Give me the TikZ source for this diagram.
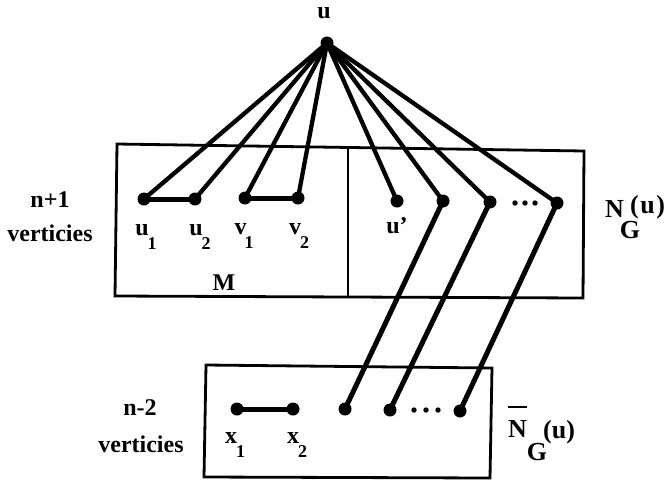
\documentclass[tikz,border=0pt]{standalone}
\usepackage{fontspec}
\setmainfont{Liberation Serif}
\newcommand{\lsub}[1]{\raisebox{-14pt}{\fontsize{18}{18}\selectfont #1}}
\begin{document}
\begin{tikzpicture}[x=1pt,y=-1pt,
  vtx/.style={circle,fill=black,inner sep=0pt,minimum size=13pt},
  edge/.style={line width=4.3pt},
  medge/.style={line width=5pt},
  box/.style={draw=black,line width=2.8pt,line join=miter},
  lbl/.style={font=\fontsize{24}{26}\selectfont\bfseries,inner sep=0pt,anchor=base},
  nlbl/.style={font=\fontsize{26}{28}\selectfont\bfseries,inner sep=0pt,anchor=base west}]
\useasboundingbox (0,0) rectangle (669,485);
% boxes
\draw[box] (117,144) -- (584,151) -- (583,298) -- (115,296) -- cycle;
\draw[box] (348,147.5) -- (348,297);
\draw[box] (206,365) -- (492,368) -- (490,478) -- (204,477) -- cycle;
% vertices
\node[vtx] (u)  at (327,43) {};
\node[vtx] (u1) at (144,199) {};
\node[vtx] (u2) at (195,199) {};
\node[vtx] (v1) at (245,198) {};
\node[vtx] (v2) at (298,198) {};
\node[vtx] (up) at (397,201) {};
\node[vtx] (a)  at (443,201) {};
\node[vtx] (b)  at (490,202) {};
\node[vtx] (c)  at (557,203) {};
\node[vtx] (x1) at (237,409) {};
\node[vtx] (x2) at (293,409) {};
\node[vtx] (d)  at (345,409) {};
\node[vtx] (e)  at (390,410) {};
\node[vtx] (f)  at (460,411) {};
% ellipsis dots
\foreach \px in {515,525,535} \fill (\px,203) circle (2.7);
\foreach \px in {414,426,438} \fill (\px,410) circle (2.7);
% edges
\foreach \t in {u1,u2,v1,v2,up,a,b,c} \draw[edge] (u.center) -- (\t.center);
\draw[medge] (u1.center) -- (u2.center);
\draw[medge] (v1.center) -- (v2.center);
\draw[medge] (x1.center) -- (x2.center);
\draw[medge] (a.center) -- (d.center);
\draw[medge] (b.center) -- (e.center);
\draw[medge] (c.center) -- (f.center);
% labels
\node[lbl] (lu)  at (324,18) {u};
\node[lbl] (lu1) at (146,235) {u\kern-1pt\lsub{1}};
\node[lbl] (lu2) at (200,235) {u\kern-1pt\lsub{2}};
\node[lbl] (lv1) at (244,234) {v\kern-2pt\lsub{1}};
\node[lbl] (lv2) at (299,234) {v\kern-1pt\lsub{2}};
\node[lbl] (lup) at (397,233) {u'};
\node[lbl] (lM)  at (224,290) {M};
\node[lbl] (ln1) at (50,207) {n+1};
\node[lbl] (lve1) at (50,241) {verticies};
\node[lbl] (ln2) at (140,415) {n-2};
\node[lbl] (lve2) at (141,452) {verticies};
\node[lbl] (lx1) at (235,443) {x\kern-1pt\lsub{1}};
\node[lbl] (lx2) at (297,443) {x\kern-1pt\lsub{2}};
\node[nlbl] (lNG) at (605,217) {N\kern-4pt\raisebox{-21pt}{G}\kern-10pt\raisebox{4pt}{(\kern1.5pt u\kern1.5pt)}};
\node[nlbl] (lNGbar) at (508,437) {\rlap{\raisebox{29pt}{\rule{19pt}{2.4pt}}}N\raisebox{-23pt}{G}\kern-4pt\raisebox{-1pt}{(u)}};
\end{tikzpicture}
\end{document}
